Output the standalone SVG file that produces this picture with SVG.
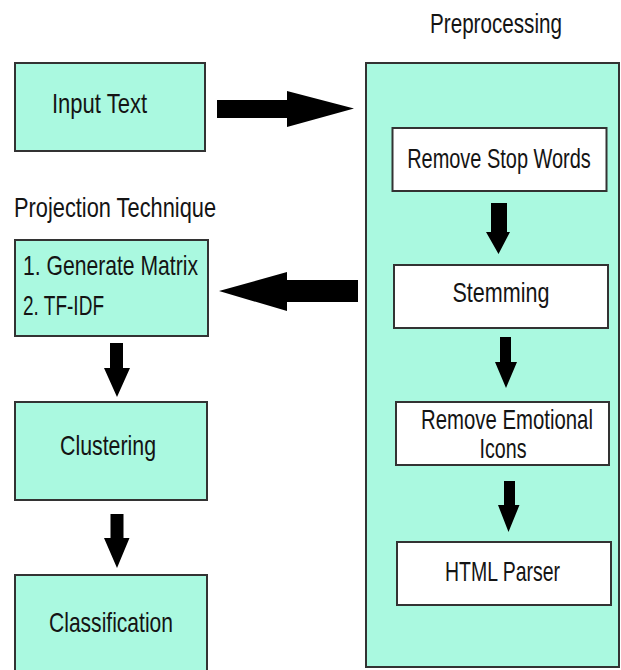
<svg xmlns="http://www.w3.org/2000/svg" width="621" height="670" viewBox="0 0 621 670">
  <style>
    .mint { fill: #aaf9e0; stroke: #333333; stroke-width: 2; }
    .step { fill: #ffffff; stroke: #333333; stroke-width: 2; }
    .lbl { font-family: "Liberation Sans", "DejaVu Sans", Arial, sans-serif; font-size: 28px; fill: #141414; }
    .mid { text-anchor: middle; }
    .arrow { fill: #000000; }
  </style>
  <rect width="621" height="670" fill="#ffffff"/>

  <!-- section titles -->
  <text class="lbl mid" x="496" y="33" textLength="132" lengthAdjust="spacingAndGlyphs">Preprocessing</text>
  <text class="lbl" x="14" y="217" textLength="202" lengthAdjust="spacingAndGlyphs">Projection Technique</text>

  <!-- preprocessing container -->
  <g id="preprocessing">
    <rect class="mint" x="366" y="63" width="253" height="604"/>
  </g>

  <g id="input-text">
    <rect class="mint" x="15" y="63" width="190" height="88"/>
    <text class="lbl" x="52" y="113" textLength="95" lengthAdjust="spacingAndGlyphs">Input Text</text>
  </g>

  <g id="remove-stop-words">
    <rect class="step" x="392.5" y="128" width="214" height="63"/>
    <text class="lbl mid" transform="translate(499 168) scale(0.713 1)" x="0" y="0">Remove Stop Words</text>
  </g>

  <g id="stemming">
    <rect class="step" x="394" y="265" width="214" height="63"/>
    <text class="lbl mid" x="501" y="302" textLength="97" lengthAdjust="spacingAndGlyphs">Stemming</text>
  </g>

  <g id="remove-emotional-icons">
    <rect class="step" x="396" y="402" width="213" height="63"/>
    <text class="lbl mid" transform="translate(507 429) scale(0.727 1)" x="0" y="0">Remove Emotional</text>
    <text class="lbl mid" x="503" y="458" textLength="47" lengthAdjust="spacingAndGlyphs">Icons</text>
  </g>

  <g id="html-parser">
    <rect class="step" x="397" y="542" width="214" height="63"/>
    <text class="lbl mid" x="502.5" y="581" textLength="115" lengthAdjust="spacingAndGlyphs">HTML Parser</text>
  </g>

  <g id="projection">
    <rect class="mint" x="15" y="240" width="193" height="96"/>
    <text class="lbl" x="23" y="275" textLength="175" lengthAdjust="spacingAndGlyphs">1. Generate Matrix</text>
    <text class="lbl" x="23" y="315" textLength="81" lengthAdjust="spacingAndGlyphs">2. TF-IDF</text>
  </g>

  <g id="clustering">
    <rect class="mint" x="15" y="402" width="192" height="98"/>
    <text class="lbl" x="60" y="455" textLength="96" lengthAdjust="spacingAndGlyphs">Clustering</text>
  </g>

  <g id="classification">
    <rect class="mint" x="15" y="575" width="192" height="100"/>
    <text class="lbl mid" x="111" y="632" textLength="124" lengthAdjust="spacingAndGlyphs">Classification</text>
  </g>

  <!-- block arrows between stages -->
  <g id="connectors">
    <polygon class="arrow" points="217,100 287,100 287,91 354,108.5 287,127 287,118 217,118"/>
    <polygon class="arrow" points="358,280 287,280 287,272 219,291 287,311 287,302 358,302"/>
    <polygon class="arrow" points="491,203 507,203 507,232 510,232 498.5,254 486,232 491,232"/>
    <polygon class="arrow" points="500,337 511,337 511,362 517,362 506,388 495,362 500,362"/>
    <polygon class="arrow" points="504,481 515,481 515,505 519.5,505 508.5,532 498,505 504,505"/>
    <polygon class="arrow" points="110,343 123,343 123,368 130,368 117,397 104,368 110,368"/>
    <polygon class="arrow" points="110.5,514 123.5,514 123.5,538 129.5,538 117,568 104,538 110.5,538"/>
  </g>
</svg>
